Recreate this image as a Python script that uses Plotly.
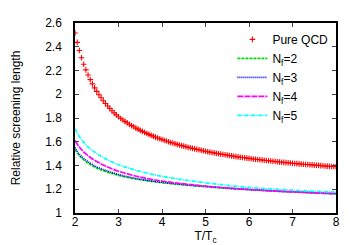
import plotly.graph_objects as go

# Pure QCD (points every 0.05 in T/Tc)
qcd_t = [2.00, 2.05, 2.10, 2.15, 2.20, 2.25, 2.30, 2.35, 2.40, 2.45,
         2.50, 2.55, 2.60, 2.65, 2.70, 2.75, 2.80, 2.85, 2.90, 2.95,
         3.00, 3.05, 3.10, 3.15, 3.20, 3.25, 3.30, 3.35, 3.40, 3.45,
         3.50, 3.55, 3.60, 3.65, 3.70, 3.75, 3.80, 3.85, 3.90, 3.95,
         4.00, 4.05, 4.10, 4.15, 4.20, 4.25, 4.30, 4.35, 4.40, 4.45,
         4.50, 4.55, 4.60, 4.65, 4.70, 4.75, 4.80, 4.85, 4.90, 4.95,
         5.00, 5.05, 5.10, 5.15, 5.20, 5.25, 5.30, 5.35, 5.40, 5.45,
         5.50, 5.55, 5.60, 5.65, 5.70, 5.75, 5.80, 5.85, 5.90, 5.95,
         6.00, 6.05, 6.10, 6.15, 6.20, 6.25, 6.30, 6.35, 6.40, 6.45,
         6.50, 6.55, 6.60, 6.65, 6.70, 6.75, 6.80, 6.85, 6.90, 6.95,
         7.00, 7.05, 7.10, 7.15, 7.20, 7.25, 7.30, 7.35, 7.40, 7.45,
         7.50, 7.55, 7.60, 7.65, 7.70, 7.75, 7.80, 7.85, 7.90, 7.95,
         8.00]
qcd_len = [2.516, 2.437, 2.368, 2.307, 2.253, 2.205, 2.162, 2.123, 2.087, 2.054,
           2.024, 1.996, 1.970, 1.945, 1.922, 1.901, 1.881, 1.861, 1.843, 1.826,
           1.810, 1.796, 1.783, 1.771, 1.759, 1.747, 1.736, 1.726, 1.715, 1.706,
           1.696, 1.687, 1.678, 1.670, 1.662, 1.654, 1.647, 1.639, 1.632, 1.625,
           1.619, 1.612, 1.606, 1.600, 1.594, 1.589, 1.583, 1.578, 1.573, 1.567,
           1.563, 1.558, 1.553, 1.549, 1.544, 1.540, 1.536, 1.532, 1.528, 1.524,
           1.520, 1.516, 1.513, 1.509, 1.506, 1.502, 1.499, 1.496, 1.493, 1.490,
           1.487, 1.484, 1.481, 1.478, 1.475, 1.473, 1.470, 1.467, 1.465, 1.462,
           1.460, 1.457, 1.455, 1.453, 1.450, 1.448, 1.446, 1.444, 1.442, 1.440,
           1.438, 1.436, 1.434, 1.432, 1.430, 1.428, 1.426, 1.424, 1.423, 1.421,
           1.419, 1.417, 1.416, 1.414, 1.413, 1.411, 1.409, 1.408, 1.406, 1.405,
           1.403, 1.402, 1.401, 1.399, 1.398, 1.396, 1.395, 1.394, 1.392, 1.391,
           1.390]

# Flavoured curves
nf_t = [2.0, 2.1, 2.25, 2.5, 2.75, 3.0, 3.25, 3.5, 3.75, 4.0, 4.25, 4.5, 4.75,
        5.0, 5.25, 5.5, 5.75, 6.0, 6.25, 6.5, 6.75, 7.0, 7.25, 7.5, 7.75, 8.0]
nf2_len = [1.535, 1.482, 1.433, 1.378, 1.344, 1.317, 1.296, 1.280, 1.266, 1.255,
           1.245, 1.236, 1.228, 1.221, 1.214, 1.207, 1.201, 1.196, 1.191, 1.186,
           1.181, 1.177, 1.173, 1.169, 1.165, 1.162]
nf3_len = [1.552, 1.495, 1.445, 1.388, 1.353, 1.324, 1.302, 1.285, 1.271, 1.259,
           1.249, 1.240, 1.232, 1.224, 1.217, 1.210, 1.204, 1.198, 1.193, 1.188,
           1.183, 1.179, 1.175, 1.171, 1.167, 1.164]
nf4_len = [1.610, 1.555, 1.497, 1.433, 1.387, 1.352, 1.325, 1.302, 1.284, 1.269,
           1.256, 1.245, 1.235, 1.226, 1.218, 1.211, 1.204, 1.198, 1.192, 1.187,
           1.182, 1.178, 1.174, 1.170, 1.166, 1.163]
nf5_len = [1.710, 1.645, 1.575, 1.500, 1.447, 1.407, 1.376, 1.350, 1.328, 1.309,
           1.293, 1.279, 1.266, 1.254, 1.243, 1.233, 1.224, 1.216, 1.209, 1.203,
           1.197, 1.192, 1.187, 1.183, 1.179, 1.176]

x_ticks = [2, 3, 4, 5, 6, 7, 8]
y_ticks = [1, 1.2, 1.4, 1.6, 1.8, 2, 2.2, 2.4, 2.6]
y_tick_text = ["1", "1.2", "1.4", "1.6", "1.8", "2", "2.2", "2.4", "2.6"]

FONT = "Liberation Sans, Arial, sans-serif"

fig = go.Figure()
fig.add_trace(go.Scatter(
    x=qcd_t, y=qcd_len, mode="markers", name="Pure QCD",
    marker=dict(symbol="cross-thin", size=4, color="#ff0000",
                line=dict(color="#ff0000", width=1.1)),
))
series = [
    ("N<sub>f</sub>=2", nf2_len, "#00e000", "3px,1px"),
    ("N<sub>f</sub>=3", nf3_len, "#0000ff", "1px,1px"),
    ("N<sub>f</sub>=4", nf4_len, "#ff00ff", "6px,1px"),
    ("N<sub>f</sub>=5", nf5_len, "#00ffff", "4px,1px,1px,1px"),
]
for name, vals, col, dash in series:
    fig.add_trace(go.Scatter(
        x=nf_t, y=vals, mode="lines", name=name, line_shape="spline",
        line=dict(color=col, width=1.7, dash=dash),
    ))

fig.update_layout(
    width=350, height=245,
    margin=dict(l=67, r=22, t=15, b=40),
    paper_bgcolor="white", plot_bgcolor="white",
    font=dict(family=FONT, size=12, color="black"),
    showlegend=True,
    legend=dict(x=0.99, y=0.99, xanchor="right", yanchor="top",
                bgcolor="rgba(0,0,0,0)", borderwidth=0,
                font=dict(size=12), itemwidth=30, tracegroupgap=0),
)
fig.update_xaxes(
    range=[2, 8], tickvals=x_ticks, ticks="inside", ticklen=4,
    showline=True, linecolor="black", linewidth=1.5, mirror="ticks",
    showgrid=False, zeroline=False, tickfont=dict(size=12), automargin=False,
    ticklabelstandoff=-3,
    title=dict(text="T/T<sub>c</sub>", standoff=0, font=dict(size=12)),
)
fig.update_yaxes(
    range=[1, 2.6], tickvals=y_ticks, ticktext=y_tick_text, ticks="inside",
    ticklen=4, showline=True, linecolor="black", linewidth=1.5, mirror="ticks",
    showgrid=False, zeroline=False, tickfont=dict(size=12), ticklabelstandoff=9,
    automargin=False,
    title=dict(text="Relative screening length", standoff=22, font=dict(size=12)),
)
fig.write_html("out.html")
